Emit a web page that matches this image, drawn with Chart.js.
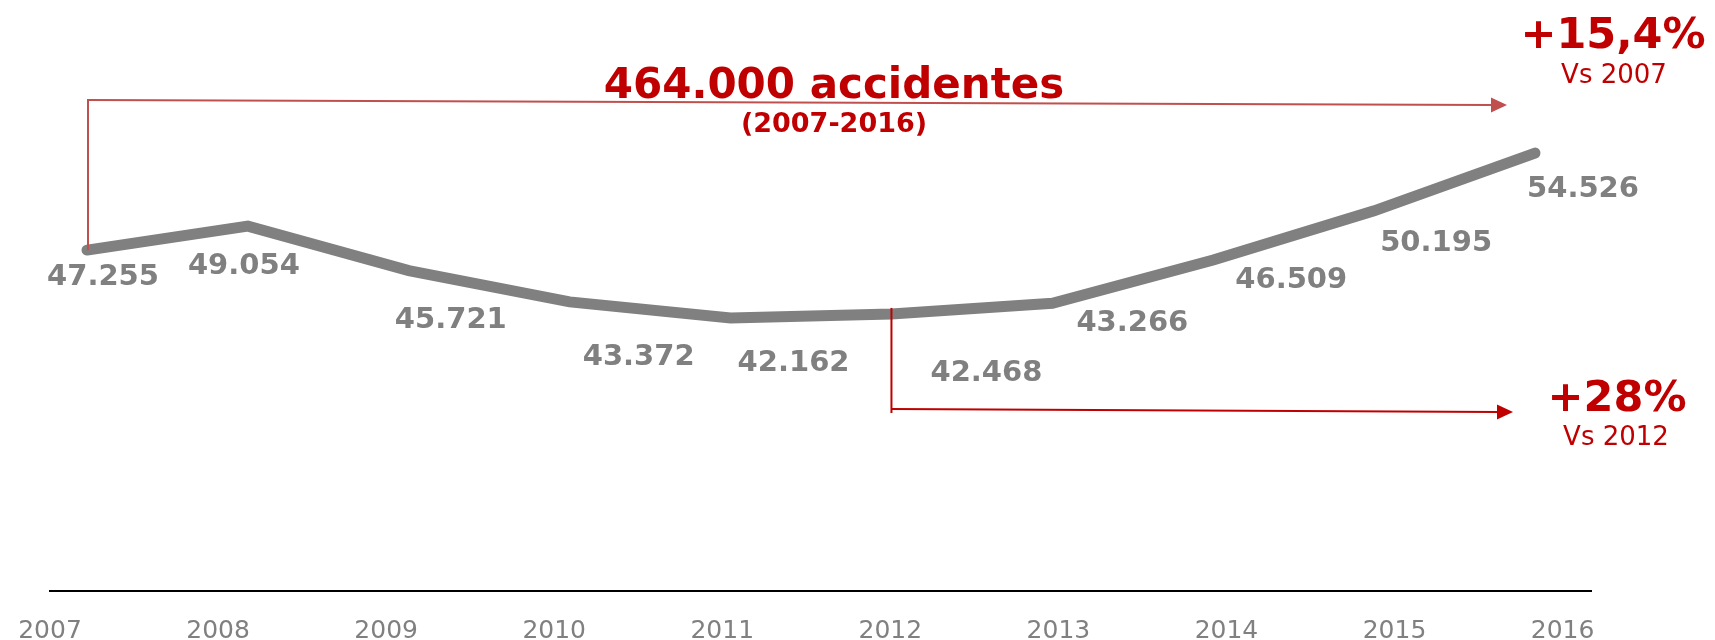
<!DOCTYPE html>
<html>
<head>
<meta charset="utf-8">
<script src="https://cdn.jsdelivr.net/npm/chart.js@4"></script>
<style>
  body { margin: 0; background: #fff; }
</style>
</head>
<body>
<canvas id="chart" width="1715" height="640"></canvas>
<script>
const years = ['2007', '2008', '2009', '2010', '2011', '2012', '2013', '2014', '2015', '2016'];
const accidents = [47.255, 49.054, 45.721, 43.372, 42.162, 42.468, 43.266, 46.509, 50.195, 54.526];
const valueLabels = ['47.255', '49.054', '45.721', '43.372', '42.162', '42.468', '43.266', '46.509', '50.195', '54.526'];
const totalText = '464.000 accidentes';
const periodText = '(2007-2016)';
const changeVs2007 = ['+15,4%', 'Vs 2007'];
const changeVs2012 = ['+28%', 'Vs 2012'];

// where each value label sits relative to its point (px)
const labelOffsets = [[16, 27], [-4, 40], [42, 50], [69, 56], [63, 45], [95, 60], [80, 20], [78, 20], [62, 33], [48, 36]];

const RED = '#c00000';
const GREY = '#808080';
const FONT = '"DejaVu Sans", Verdana, sans-serif';

function arrow(ctx, x1, y1, x2, y2, color) {
  ctx.save();
  ctx.strokeStyle = color;
  ctx.fillStyle = color;
  ctx.lineWidth = 2;
  ctx.beginPath();
  ctx.moveTo(x1, y1);
  ctx.lineTo(x2 - 14, y2);
  ctx.stroke();
  ctx.beginPath();
  ctx.moveTo(x2, y2);
  ctx.lineTo(x2 - 16, y2 - 7.5);
  ctx.lineTo(x2 - 16, y2 + 7.5);
  ctx.closePath();
  ctx.fill();
  ctx.restore();
}

const decorations = {
  id: 'decorations',
  afterDatasetsDraw(chart) {
    const ctx = chart.ctx;
    const meta = chart.getDatasetMeta(0);

    // value labels
    ctx.save();
    ctx.font = 'bold 29px ' + FONT;
    ctx.fillStyle = GREY;
    ctx.textAlign = 'center';
    ctx.textBaseline = 'middle';
    meta.data.forEach((pt, i) => {
      ctx.fillText(valueLabels[i], pt.x + labelOffsets[i][0], pt.y + labelOffsets[i][1]);
    });
    ctx.restore();

    // arrow from 2007
    const p0 = meta.data[0];
    ctx.save();
    ctx.strokeStyle = '#c0504d';
    ctx.lineWidth = 2;
    ctx.beginPath();
    ctx.moveTo(p0.x + 1, p0.y);
    ctx.lineTo(p0.x + 1, 100);
    ctx.stroke();
    ctx.restore();
    arrow(ctx, p0.x, 100, 1507, 105, '#c0504d');

    // arrow from 2012
    const p5 = meta.data[5];
    ctx.save();
    ctx.strokeStyle = RED;
    ctx.lineWidth = 2;
    ctx.beginPath();
    ctx.moveTo(p5.x, p5.y - 6);
    ctx.lineTo(p5.x, 413);
    ctx.stroke();
    ctx.restore();
    arrow(ctx, p5.x, 409, 1513, 412, RED);

    ctx.save();
    ctx.fillStyle = RED;
    ctx.textAlign = 'center';
    ctx.textBaseline = 'alphabetic';
    ctx.font = 'bold 42px ' + FONT;
    ctx.fillText(totalText, 834, 98);
    ctx.font = 'bold 27px ' + FONT;
    ctx.fillText(periodText, 834, 132);
    ctx.font = 'bold 43px ' + FONT;
    ctx.fillText(changeVs2007[0], 1613, 48);
    ctx.fillText(changeVs2012[0], 1617, 411);
    ctx.font = '26px ' + FONT;
    ctx.fillText(changeVs2007[1], 1614, 83);
    ctx.fillText(changeVs2012[1], 1616, 445);
    ctx.restore();
  }
};

new Chart(document.getElementById('chart'), {
  type: 'line',
  data: {
    datasets: [{
      label: 'Accidentes',
      data: accidents.map((v, i) => ({ x: i, y: v })),
      xAxisID: 'x',
      yAxisID: 'y',
      borderColor: GREY,
      borderWidth: 11,
      borderCapStyle: 'round',
      borderJoinStyle: 'miter',
      pointRadius: 0,
      tension: 0,
      fill: false,
      clip: false
    }]
  },
  options: {
    responsive: false,
    animation: false,
    layout: { padding: { left: 50, right: 124, top: 0, bottom: 0 } },
    plugins: {
      legend: { display: false },
      tooltip: { enabled: false }
    },
    scales: {
      x: {
        type: 'linear',
        display: false,
        min: -0.23,
        max: 9.348
      },
      xl: {
        type: 'linear',
        position: 'bottom',
        min: 0,
        max: 9.169,
        afterBuildTicks: (scale) => {
          scale.ticks = years.map((y, i) => ({ value: i }));
        },
        afterFit: (scale) => {
          scale.height = 49;
          scale.paddingLeft = 0;
          scale.paddingRight = 0;
        },
        ticks: {
          padding: 25,
          maxRotation: 0,
          autoSkip: false,
          color: GREY,
          font: { family: FONT, size: 25 },
          callback: (v) => years[v]
        },
        grid: { display: false, drawTicks: false, tickLength: 0 },
        border: { display: true, color: '#000', width: 2 }
      },
      y: {
        display: false,
        min: 21.7,
        max: 66
      }
    }
  },
  plugins: [decorations]
});
</script>
</body>
</html>
